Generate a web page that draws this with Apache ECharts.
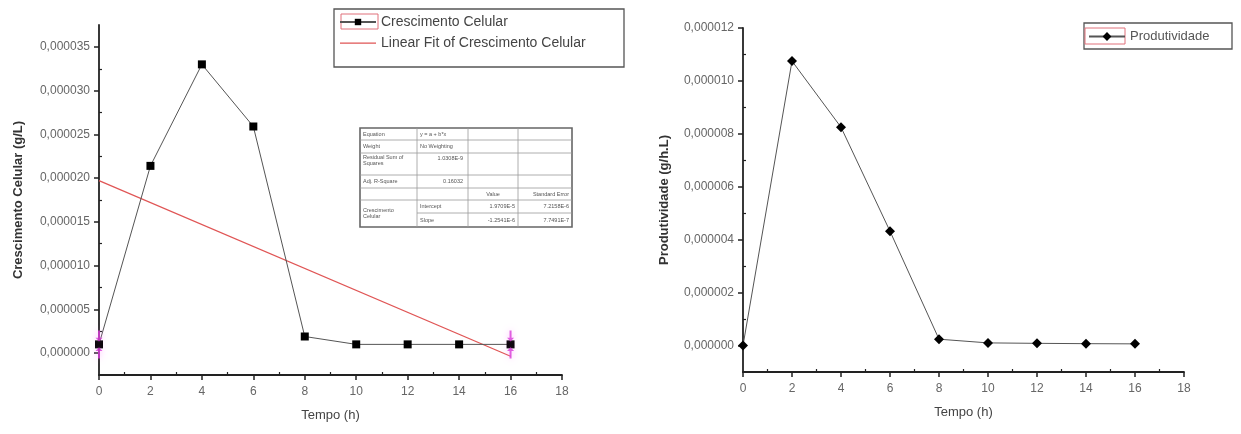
<!DOCTYPE html>
<html>
<head>
<meta charset="utf-8">
<title>Crescimento Celular e Produtividade</title>
<script src="https://cdn.jsdelivr.net/npm/echarts@6/dist/echarts.min.js"></script>
<style>
  html, body { margin: 0; padding: 0; background: #ffffff; }
  #chart { width: 1241px; height: 434px; }
</style>
</head>
<body>
<div id="chart"></div>
<script>
// Sampling times (h)
const timeH = [0, 2, 4, 6, 8, 10, 12, 14, 16];
// Cell growth (g/L)
const crescimento = [1.0e-6, 2.14e-5, 3.30e-5, 2.59e-5, 1.9e-6, 1.0e-6, 1.0e-6, 1.0e-6, 1.0e-6];
// Productivity (g/h.L)
const produtividade = [0, 1.075e-5, 8.25e-6, 4.32e-6, 2.4e-7, 1.0e-7, 8.3e-8, 7.1e-8, 6.3e-8];

// Linear fit parameters (from the fit report)
const fitIntercept = 1.9709e-5;
const fitSlope = -1.2541e-6;
const fitRange = [0, 16];

// Axis ticks
const xTicks = [0, 2, 4, 6, 8, 10, 12, 14, 16, 18];
const xMinorTicks = [1, 3, 5, 7, 9, 11, 13, 15, 17];
const yTicksCresc = [0, 0.000005, 0.00001, 0.000015, 0.00002, 0.000025, 0.00003, 0.000035];
const yMinorCresc = [0.0000025, 0.0000075, 0.0000125, 0.0000175, 0.0000225, 0.0000275, 0.0000325];
const yTicksProd = [0, 0.000002, 0.000004, 0.000006, 0.000008, 0.00001, 0.000012];
const yMinorProd = [0.000001, 0.000003, 0.000005, 0.000007, 0.000009, 0.000011];

// Fit report table rows
const fitTable = [
  ['Equation', 'y = a + b*x'],
  ['Weight', 'No Weighting'],
  ['Residual Sum of Squares', '1.0308E-9'],
  ['Adj. R-Square', '0.16032']
];
const fitParams = [
  ['Intercept', '1.9709E-5', '7.2158E-6'],
  ['Slope', '-1.2541E-6', '7.7491E-7']
];

const FONT = '"Liberation Sans", Arial, sans-serif';
const AXIS_COLOR = '#222';
const LABEL_COLOR = '#666';

const fmt = v => v.toFixed(6).replace('.', ',');

function xAxisPair(gridIndex) {
  return [
    {
      type: 'value', gridIndex, position: 'bottom', min: 0, max: 18,
      name: 'Tempo (h)', nameLocation: 'middle', nameGap: 34,
      nameTextStyle: { fontFamily: FONT, fontSize: 13, color: '#444', letterSpacing: 0.5 },
      axisLine: { show: true, onZero: false, lineStyle: { color: AXIS_COLOR, width: 1.8 } },
      axisTick: { show: true, customValues: xTicks, length: 5, lineStyle: { color: AXIS_COLOR, width: 1.5 } },
      axisLabel: { customValues: xTicks, margin: 11, fontFamily: FONT, fontSize: 12, color: LABEL_COLOR },
      splitLine: { show: false }
    },
    {
      type: 'value', gridIndex, position: 'bottom', offset: 0, min: 0, max: 18,
      axisLine: { show: false, onZero: false },
      axisTick: { show: true, inside: true, customValues: xMinorTicks, length: 3, lineStyle: { color: AXIS_COLOR, width: 1.2 } },
      axisLabel: { show: false },
      splitLine: { show: false }
    }
  ];
}

function yAxisPair(gridIndex, min, max, ticks, minor, title, gap) {
  return [
    {
      type: 'value', gridIndex, position: 'left', min, max,
      name: title, nameLocation: 'middle', nameGap: gap, nameRotate: 90,
      nameTextStyle: { fontFamily: FONT, fontSize: 13, fontWeight: 'bold', color: '#333' },
      axisLine: { show: true, onZero: false, lineStyle: { color: AXIS_COLOR, width: 1.8 } },
      axisTick: { show: true, customValues: ticks, length: 5, lineStyle: { color: AXIS_COLOR, width: 1.5 } },
      axisLabel: { customValues: ticks, margin: 9, formatter: fmt, fontFamily: FONT, fontSize: 12, color: LABEL_COLOR },
      splitLine: { show: false }
    },
    {
      type: 'value', gridIndex, position: 'left', offset: 0, min, max,
      axisLine: { show: false, onZero: false },
      axisTick: { show: true, inside: true, customValues: minor, length: 3, lineStyle: { color: AXIS_COLOR, width: 1.2 } },
      axisLabel: { show: false },
      splitLine: { show: false }
    }
  ];
}

// Fit line through its data range
const fitLine = fitRange.map(x => [x, fitIntercept + fitSlope * x]);

// Range markers at the first and last fitted points
const rangeMarker = 'path://M4,0h2v8h2.5l-3.5,4l-3.5,-4h2.5z M4,30h2v-8h2.5l-3.5,-4l-3.5,4h2.5z';
const first = 0, last = timeH.length - 1;

// Plain line legend icon (corner dots keep the box height so the stroke stays thin)
const lineIcon = 'path://M0,0h0.01v0.01h-0.01z M0,3.5h36v1.2h-36z M35.99,7.99h0.01v0.01h-0.01z';

// Fit report table drawn as graphic elements
function buildTable() {
  const x0 = 360, x1 = 572, y0 = 128, y1 = 227;
  const cols = [x0, 417, 468, 518, x1];
  const rows = [y0, 140, 153, 175, 188, 200, 213, y1];
  const els = [];
  const ln = (ax, ay, bx, by) => els.push({
    type: 'line', shape: { x1: ax, y1: ay, x2: bx, y2: by },
    style: { stroke: '#999', lineWidth: 0.8 }
  });
  const tx = (x, y, t, align) => els.push({
    type: 'text', x, y,
    style: { text: t, fontSize: 5.5, fontFamily: FONT, fill: '#555', align: align || 'left', verticalAlign: 'middle', lineHeight: 6 }
  });
  els.push({ type: 'rect', shape: { x: x0, y: y0, width: x1 - x0, height: y1 - y0 },
    style: { fill: '#fff', stroke: '#666', lineWidth: 1.6 } });
  cols.slice(1, 4).forEach(c => ln(c, y0, c, y1));
  rows.slice(1, 6).forEach(r => ln(x0, r, x1, r));
  ln(cols[1], rows[6], x1, rows[6]);

  tx(363, (rows[0] + rows[1]) / 2, fitTable[0][0]);
  tx(420, (rows[0] + rows[1]) / 2, fitTable[0][1]);
  tx(363, (rows[1] + rows[2]) / 2, fitTable[1][0]);
  tx(420, (rows[1] + rows[2]) / 2, fitTable[1][1]);
  tx(363, rows[2] + 7, 'Residual Sum of\nSquares');
  tx(463, rows[2] + 5, fitTable[2][1], 'right');
  tx(363, (rows[3] + rows[4]) / 2, fitTable[3][0]);
  tx(463, (rows[3] + rows[4]) / 2, fitTable[3][1], 'right');
  tx(493, (rows[4] + rows[5]) / 2, 'Value', 'center');
  tx(569, (rows[4] + rows[5]) / 2, 'Standard Error', 'right');
  tx(363, (rows[5] + rows[7]) / 2, 'Crescimento\nCelular');
  fitParams.forEach((p, i) => {
    const yy = (rows[5 + i] + rows[6 + i]) / 2;
    tx(420, yy, p[0]);
    tx(515, yy, p[1], 'right');
    tx(569, yy, p[2], 'right');
  });
  return els;
}

const chart = echarts.init(document.getElementById('chart'), null, { renderer: 'canvas' });

const option = {
  backgroundColor: '#ffffff',
  animation: false,
  grid: [
    { left: 99, top: 25, width: 463, height: 350 },
    { left: 743, top: 28, width: 441, height: 344 }
  ],
  xAxis: [...xAxisPair(0), ...xAxisPair(1)],
  yAxis: [
    ...yAxisPair(0, -0.0000025, 0.0000375, yTicksCresc, yMinorCresc, 'Crescimento Celular (g/L)', 74),
    ...yAxisPair(1, -0.000001, 0.000012, yTicksProd, yMinorProd, 'Produtividade (g/h.L)', 72)
  ],
  legend: [
    {
      data: [
        { name: 'Crescimento Celular' },
        { name: 'Linear Fit of Crescimento Celular', icon: lineIcon, itemStyle: { color: '#e05555' } }
      ],
      orient: 'vertical', left: 339, top: 14, itemGap: 5,
      itemWidth: 36, itemHeight: 8, padding: 0,
      selectedMode: false,
      textStyle: { fontFamily: FONT, fontSize: 14, color: '#444', lineHeight: 16 }
    },
    {
      data: ['Produtividade'],
      orient: 'vertical', left: 1088, top: 30,
      itemWidth: 36, itemHeight: 11, padding: 0,
      selectedMode: false,
      textStyle: { fontFamily: FONT, fontSize: 13, color: '#555' }
    }
  ],
  series: [
    {
      name: 'Crescimento Celular', type: 'line', xAxisIndex: 0, yAxisIndex: 0,
      data: timeH.map((t, i) => [t, crescimento[i]]),
      symbol: 'rect', symbolSize: 8,
      lineStyle: { color: '#555', width: 1 },
      itemStyle: { color: '#000' },
      markPoint: {
        symbol: rangeMarker, symbolSize: [7, 28],
        itemStyle: { color: '#d83ad8', opacity: 0.8, shadowBlur: 6, shadowColor: 'rgba(255,120,255,0.7)' },
        label: { show: false },
        data: [
          { coord: [timeH[first], crescimento[first]] },
          { coord: [timeH[last], crescimento[last]] }
        ]
      },
      z: 3
    },
    {
      name: 'Linear Fit of Crescimento Celular', type: 'line', xAxisIndex: 0, yAxisIndex: 0,
      data: fitLine, symbol: 'none',
      lineStyle: { color: '#e05555', width: 1.2 },
      itemStyle: { color: '#e05555' },
      z: 2
    },
    {
      name: 'Produtividade', type: 'line', xAxisIndex: 2, yAxisIndex: 2,
      data: timeH.map((t, i) => [t, produtividade[i]]),
      symbol: 'diamond', symbolSize: 10,
      lineStyle: { color: '#555', width: 1 },
      itemStyle: { color: '#000' }
    }
  ],
  graphic: [
    // legend frames and highlighted legend symbols
    { type: 'rect', shape: { x: 334, y: 9, width: 290, height: 58 }, style: { fill: 'none', stroke: '#555', lineWidth: 1.3 } },
    { type: 'rect', shape: { x: 341, y: 14, width: 37, height: 15 }, style: { fill: 'none', stroke: '#e0707a', lineWidth: 1 } },
    { type: 'rect', shape: { x: 1084, y: 23, width: 148, height: 26 }, style: { fill: 'none', stroke: '#555', lineWidth: 1.3 } },
    { type: 'rect', shape: { x: 1085, y: 28, width: 40, height: 16 }, style: { fill: 'none', stroke: '#e0707a', lineWidth: 1 } },
    ...buildTable()
  ]
};

chart.setOption(option);
</script>
</body>
</html>
